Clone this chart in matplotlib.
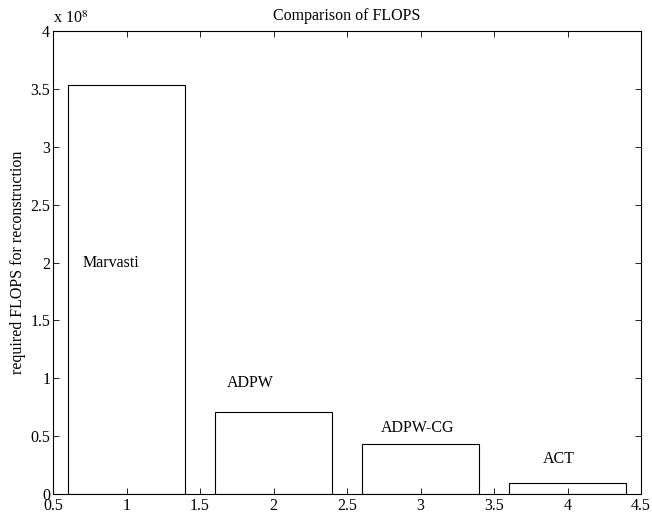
import matplotlib.pyplot as plt
from matplotlib.ticker import FuncFormatter
import numpy as np

plt.rcParams['font.family'] = ['Liberation Serif', 'DejaVu Serif']
plt.rcParams['mathtext.fontset'] = 'stix'

methods = ['Marvasti', 'ADPW', 'ADPW-CG', 'ACT']
positions = [1, 2, 3, 4]
flops = [3.535e8, 0.71e8, 0.435e8, 0.095e8]
# label anchor points (data coords), MATLAB-style left aligned text
label_x = [0.7, 1.68, 2.73, 3.83]
label_y = [2.0e8, 0.96e8, 0.57e8, 0.30e8]

FS = 11.5

fig = plt.figure(figsize=(6.52, 5.22), dpi=100)
ax = fig.add_axes([0.0813, 0.0536, 0.902, 0.887])

ax.bar(positions, flops, width=0.8, facecolor='white', edgecolor='black', linewidth=0.8)
for name, x, y in zip(methods, label_x, label_y):
    ax.text(x, y, name, fontsize=FS, ha='left', va='center')

ax.set_xlim(0.5, 4.5)
ax.set_ylim(0, 4e8)
ax.set_xticks(np.arange(0.5, 4.51, 0.5))
ax.set_yticks(np.arange(0, 4.01e8, 0.5e8))
ax.xaxis.set_major_formatter(FuncFormatter(lambda v, p: '%g' % v))
ax.yaxis.set_major_formatter(FuncFormatter(lambda v, p: '%g' % (v / 1e8)))
ax.tick_params(direction='in', top=True, right=True, labelsize=FS, length=4, width=0.6)
ax.tick_params(axis='y', pad=2)
ax.tick_params(axis='x', pad=3)
for s in ax.spines.values():
    s.set_linewidth(0.8)

ax.text(0.0, 1.008, r'x 10$^{8}$', transform=ax.transAxes, fontsize=FS, ha='left', va='bottom')
ax.set_title('Comparison of FLOPS', fontsize=FS, pad=8)
ax.set_ylabel('required FLOPS for reconstruction', fontsize=FS, labelpad=3)

fig.savefig('out.png', dpi=100)
